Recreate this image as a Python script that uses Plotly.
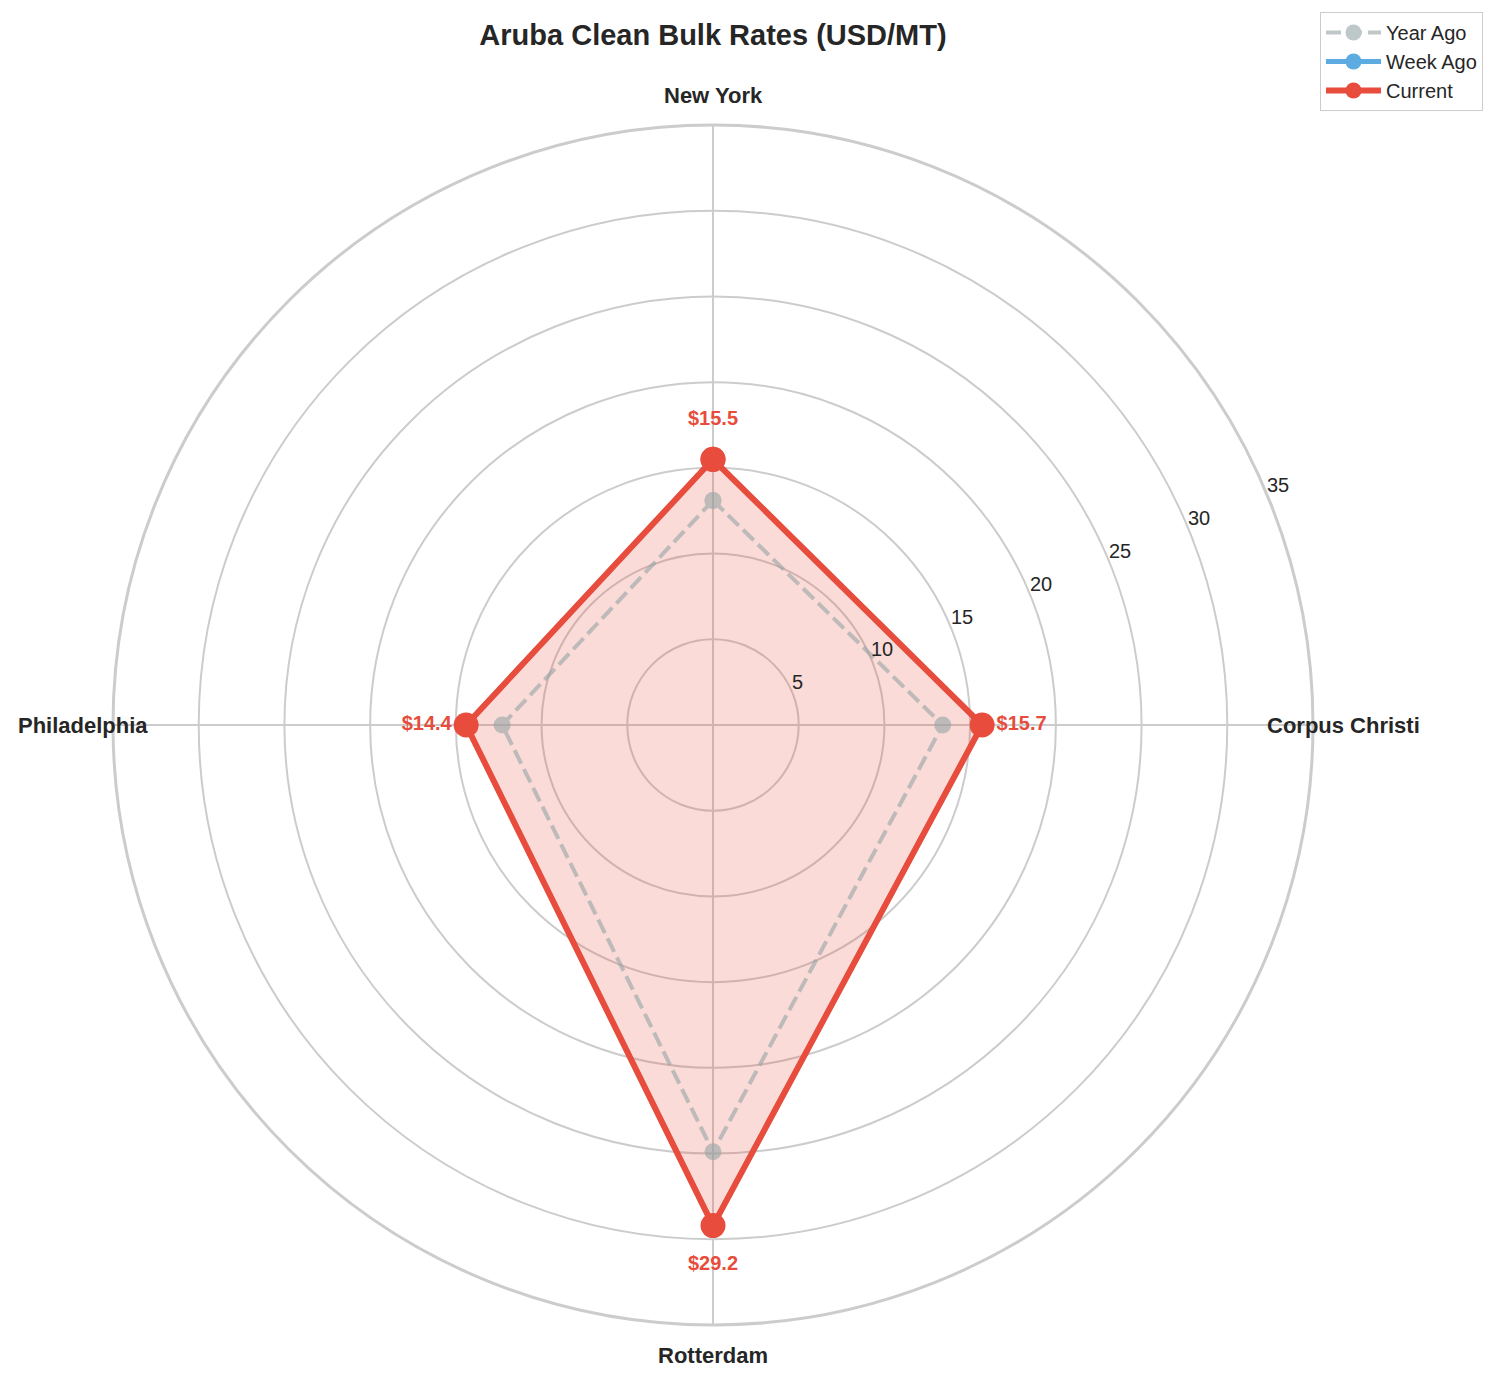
import math
import plotly.graph_objects as go

# routes (clockwise from the top) and rates in USD/MT
routes = ['New York', 'Corpus Christi', 'Rotterdam', 'Philadelphia']
year_ago = [13.1, 13.4, 24.9, 12.3]
week_ago = [15.5, 15.7, 29.2, 14.4]
current = [15.5, 15.7, 29.2, 14.4]
radial_ticks = [5, 10, 15, 20, 25, 30, 35]

W, H = 1499, 1381
OFF = 8              # page body margin of the html page
CX, CY, RAD = 713, 725, 600   # polar centre / radius on screen, px
R_MAX = 35
LABEL_R = 36.75      # where the route names sit
VALUE_PAD = 2.3      # value labels sit a bit outside the point
RLABEL_ANGLE = 22.5  # radial tick labels run along this angle (ccw from east)

FONT = 'Liberation Sans, Arial, sans-serif'
TXT = '#262626'
RED = '#e74c3c'
BLUE = '#3498db'
GREY = '#95a5a6'


def px_x(p):
    return (p - OFF) / W


def px_y(p):
    return 1 - (p - OFF) / H


def closed(vals):
    return list(vals) + [vals[0]]


fig = go.Figure()

# the fill goes under all the lines, like a patch in matplotlib
fig.add_trace(go.Scatterpolar(
    r=closed(current), theta=closed(routes), mode='none', fill='toself',
    fillcolor='rgba(231,76,60,0.2)', showlegend=False, hoverinfo='skip'))

fig.add_trace(go.Scatterpolar(
    r=closed(year_ago), theta=closed(routes), mode='lines+markers', name='Year Ago',
    line=dict(color=GREY, width=4, dash='15px,6px'), marker=dict(size=17, color=GREY),
    opacity=0.6))
fig.add_trace(go.Scatterpolar(
    r=closed(week_ago), theta=closed(routes), mode='lines+markers', name='Week Ago',
    line=dict(color=BLUE, width=5), marker=dict(size=21, color=BLUE),
    opacity=0.8))
fig.add_trace(go.Scatterpolar(
    r=closed(current), theta=closed(routes), mode='lines+markers', name='Current',
    line=dict(color=RED, width=6), marker=dict(size=25, color=RED)))

# value labels for the current rates
fig.add_trace(go.Scatterpolar(
    r=[v + VALUE_PAD for v in current], theta=routes, mode='text',
    text=['$%.1f' % v for v in current], showlegend=False, cliponaxis=False,
    textfont=dict(family=FONT, size=20, color=RED, weight='bold'), hoverinfo='skip'))

annotations = []
# route names around the outside (outside the radial range, so as annotations)
for i, name in enumerate(routes):
    a = math.radians(i * 360 / len(routes))
    d = LABEL_R / R_MAX * RAD
    annotations.append(dict(
        x=px_x(CX + d * math.sin(a)), y=px_y(CY - d * math.cos(a)),
        xref='paper', yref='paper', text='<b>%s</b>' % name, showarrow=False,
        xanchor='center', yanchor='middle',
        font=dict(family=FONT, size=22, color=TXT)))

# radial tick labels, matplotlib style: left edge on the label line, just above it
ra = math.radians(RLABEL_ANGLE)
for t in radial_ticks:
    d = t / R_MAX * RAD
    annotations.append(dict(
        x=px_x(CX + d * math.cos(ra) - 2), y=px_y(CY - d * math.sin(ra) - 10),
        xref='paper', yref='paper', text=str(t), showarrow=False,
        xanchor='left', yanchor='middle',
        font=dict(family=FONT, size=20, color=TXT)))

fig.update_layout(
    width=W, height=H,
    paper_bgcolor='white',
    margin=dict(l=0, r=0, t=0, b=0),
    font=dict(family=FONT, color=TXT),
    title=dict(text='<b>Aruba Clean Bulk Rates (USD/MT)</b>', x=px_x(713), xanchor='center',
               y=px_y(35), yanchor='middle', font=dict(size=29, color=TXT)),
    annotations=annotations,
    polar=dict(
        domain=dict(x=[px_x(CX - RAD), px_x(CX + RAD)], y=[px_y(CY + RAD), px_y(CY - RAD)]),
        bgcolor='white',
        angularaxis=dict(rotation=90, direction='clockwise', categoryarray=routes,
                         showticklabels=False, ticks='', gridcolor='#cccccc', gridwidth=1.6,
                         showline=True, linecolor='#cccccc', linewidth=3),
        radialaxis=dict(range=[0, R_MAX], tickvals=radial_ticks, showticklabels=False,
                        showline=False, ticks='', gridcolor='#cccccc', gridwidth=1.6),
    ),
    legend=dict(x=px_x(1483), y=px_y(12), xanchor='right', yanchor='top',
                bgcolor='white', bordercolor='#cccccc', borderwidth=1, itemwidth=55,
                font=dict(size=20, color=TXT)),
)

fig.write_html('out.html')
